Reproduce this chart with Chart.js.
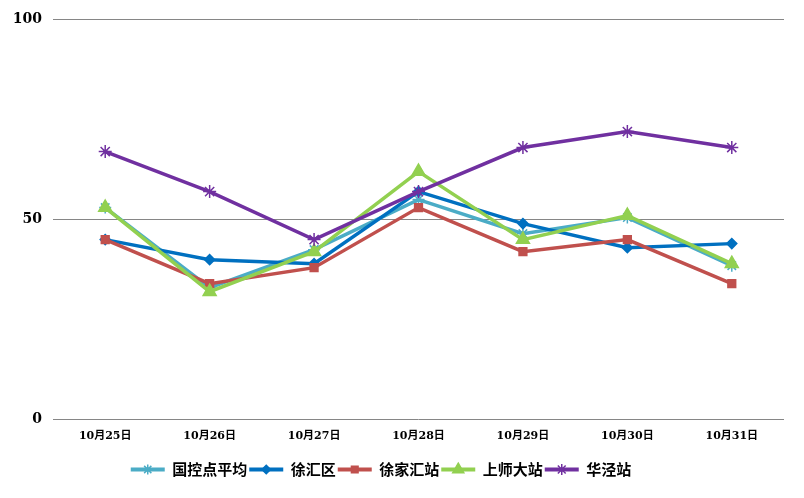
<!DOCTYPE html>
<html>
<head>
<meta charset="utf-8">
<script src="https://cdn.jsdelivr.net/npm/chart.js@4"></script>
<style>
  html, body { margin: 0; padding: 0; background: #fff; }
  #wrap { width: 804px; height: 498px; }
</style>
</head>
<body>
<div id="wrap"><canvas id="line-chartcanvas" width="804" height="498"></canvas></div>
<script>
// categories and series values
var dates = ["10月25日", "10月26日", "10月27日", "10月28日", "10月29日", "10月30日", "10月31日"];
var guokong = [53, 33, 42.5, 55, 46.5, 50.5, 38.5];   // 国控点平均
var xuhuiqu = [45, 40, 39, 57, 49, 43, 44];           // 徐汇区
var xujiahui = [45, 34, 38, 53, 42, 45, 34];          // 徐家汇站
var shangshi = [53, 32, 42, 62, 45, 51, 39];          // 上师大站
var huajing = [67, 57, 45, 57, 68, 72, 68];           // 华泾站
var yTicks = [0, 50, 100];

function series(label, values, color, style, radius, order) {
  return {
    label: label,
    data: values,
    borderColor: color,
    backgroundColor: color,
    pointStyle: style,
    pointRadius: radius,
    pointBorderWidth: 1.5,
    borderWidth: 3.5,
    fill: false,
    tension: 0,
    order: order
  };
}

// legend sits a bit left of centre in the original
var legendShift = {
  id: "legendShift",
  afterLayout: function (chart) {
    if (!chart.legend) return;
    chart.legend.left -= 11;
    chart.legend.right -= 11;
  }
};

// draw the marker in the middle of each legend line
var legendMarkers = {
  id: "legendMarkers",
  afterDraw: function (chart) {
    var legend = chart.legend;
    if (!legend || !legend.legendHitBoxes) return;
    var ctx = chart.ctx;
    legend.legendHitBoxes.forEach(function (box, i) {
      var ds = chart.data.datasets[i];
      var bw = legend.options.labels.boxWidth;
      ctx.save();
      ctx.strokeStyle = ds.borderColor;
      ctx.fillStyle = ds.backgroundColor;
      ctx.lineWidth = 1.5;
      Chart.helpers.drawPoint(ctx, {
        pointStyle: ds.pointStyle,
        radius: ds.pointRadius * 0.85,
        rotation: 0,
        borderWidth: 1.5
      }, box.left + bw / 2, box.top + box.height / 2);
      ctx.restore();
    });
  }
};

var ctx = document.getElementById("line-chartcanvas");

var chart = new Chart(ctx, {
  type: "line",
  data: {
    labels: dates,
    datasets: [
      series("国控点平均", guokong, "#4BACC6", "star", 6, 5),
      series("徐汇区", xuhuiqu, "#0070C0", "rectRot", 5, 4),
      series("徐家汇站", xujiahui, "#C0504D", "rect", 5.5, 3),
      series("上师大站", shangshi, "#92D050", "triangle", 7.5, 2),
      series("华泾站", huajing, "#7030A0", "star", 6.5, 1)
    ]
  },
  options: {
    responsive: false,
    animation: false,
    layout: { padding: { top: 12, right: 20, left: 0, bottom: 11 } },
    plugins: {
      title: { display: false },
      tooltip: { enabled: false },
      legend: {
        display: true,
        position: "bottom",
        labels: {
          boxWidth: 34,
          boxHeight: 4,
          padding: 2,
          color: "#000",
          font: { family: "'Noto Sans CJK SC', sans-serif", size: 15, weight: "bold" },
          generateLabels: function (chart) {
            return chart.data.datasets.map(function (ds, i) {
              return {
                text: ds.label,
                fillStyle: ds.borderColor,
                strokeStyle: ds.borderColor,
                lineWidth: 0,
                hidden: false,
                datasetIndex: i
              };
            });
          }
        }
      }
    },
    scales: {
      x: {
        offset: true,
        grid: { display: false },
        border: { display: false },
        afterFit: function (scale) { scale.height += 15; },
        ticks: {
          color: "#000",
          padding: 2,
          maxRotation: 0,
          font: { family: "'DejaVu Serif', 'Noto Sans CJK SC', serif", size: 11, weight: "bold" }
        }
      },
      y: {
        min: 0,
        max: 100,
        afterFit: function (scale) { scale.width = 53; },
        afterBuildTicks: function (scale) {
          scale.ticks = yTicks.map(function (v) { return { value: v }; });
        },
        grid: { color: "#868686", lineWidth: 1, drawTicks: false },
        border: { display: false },
        ticks: {
          color: "#000",
          padding: 11,
          font: { family: "'DejaVu Serif', serif", size: 14, weight: "bold" }
        }
      }
    }
  },
  plugins: [legendShift, legendMarkers]
});
</script>
</body>
</html>
